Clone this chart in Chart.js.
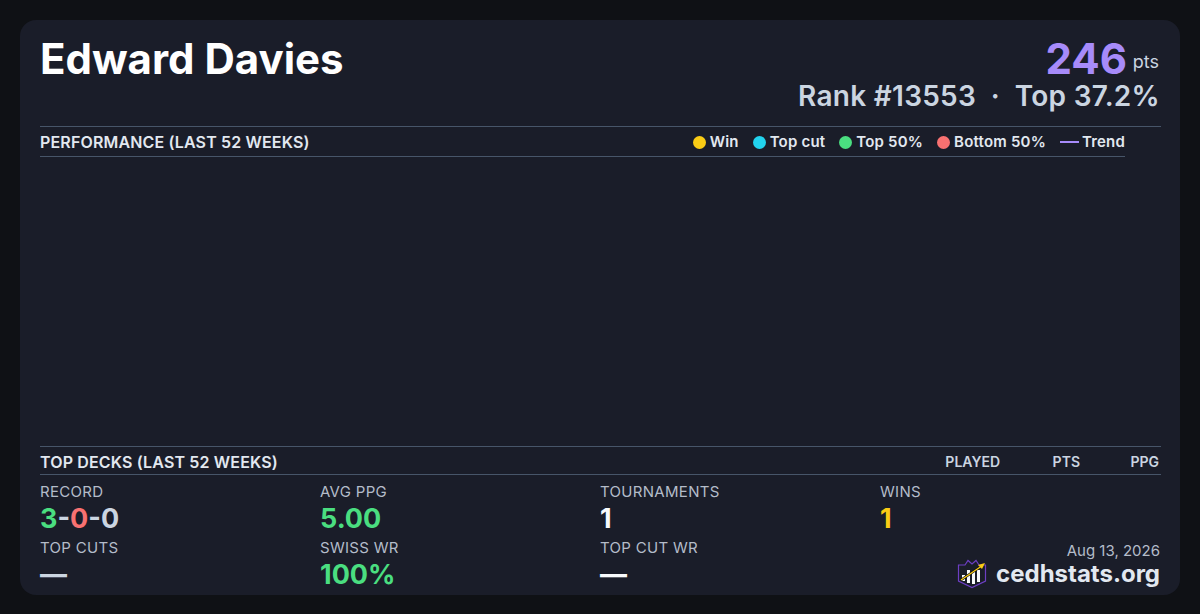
<!DOCTYPE html>
<html>
<head>
<meta charset="utf-8">
<script src="https://cdn.jsdelivr.net/npm/chart.js@4"></script>
<style>
html, body { margin: 0; padding: 0; background: #0f1115; }
body { width: 1200px; height: 614px; overflow: hidden; position: relative; font-family: Inter, sans-serif; }
#card { position: absolute; left: 20px; top: 20px; width: 1160px; height: 575px; background: #1a1d29; border-radius: 16px; }
.abs { position: absolute; white-space: nowrap; line-height: 1; }
.rule { position: absolute; height: 1px; background: #475569; }
.sect { font-size: 16px; font-weight: 600; color: #e2e8f0; letter-spacing: 0.15px; }
.colhead { font-size: 14px; font-weight: 600; color: #cbd5e1; }
.lab { font-size: 15px; font-weight: 400; color: #b4bcc9; letter-spacing: 0.3px; }
.val { font-size: 27px; font-weight: 700; color: #cbd5e1; }
#legend { position: absolute; top: 134px; right: 75px; display: flex; font-size: 15px; font-weight: 600; color: #e2e8f0; line-height: 16px; letter-spacing: 0.2px; }
#legend .item { display: flex; align-items: center; margin-left: 14px; }
#legend .dot { width: 13px; height: 13px; border-radius: 50%; margin-right: 4px; }
#legend .ln { width: 19px; height: 2px; margin-right: 3px; }
#chartBox { position: absolute; left: 40px; top: 157px; width: 1085px; height: 289px; }
</style>
</head>
<body>
<div id="card"></div>
<div class="abs" style="left:40px;top:36px;font-size:42px;font-weight:700;color:#fff;line-height:46px" id="name"></div>
<div class="abs" style="right:73px;top:37px;font-size:42px;font-weight:700;color:#a78bfa;line-height:44px" id="points"></div>
<div class="abs" style="right:41px;top:53px;font-size:18px;color:#cbd5e1;line-height:18px">pts</div>
<div class="abs" style="right:40px;top:80px;font-size:28px;font-weight:600;color:#cbd5e1;line-height:32px;letter-spacing:0.28px" id="rank"></div>

<div class="rule" style="left:40px;top:126px;width:1121px"></div>
<div class="abs sect" style="left:40px;top:134px">PERFORMANCE (LAST 52 WEEKS)</div>
<div id="legend"></div>
<div class="rule" style="left:40px;top:156px;width:1085px"></div>
<div id="chartBox"><canvas id="chart"></canvas></div>

<div class="rule" style="left:40px;top:446px;width:1121px"></div>
<div class="abs sect" style="left:40px;top:454px">TOP DECKS (LAST 52 WEEKS)</div>
<div class="abs colhead" style="right:200px;top:455px">PLAYED</div>
<div class="abs colhead" style="right:120px;top:455px">PTS</div>
<div class="abs colhead" style="right:41px;top:455px">PPG</div>
<div class="rule" style="left:40px;top:474px;width:1121px"></div>
<div id="stats"></div>

<div class="abs" style="right:40px;top:543px;font-size:15px;color:#b4bcc9">Aug 13, 2026</div>
<svg class="abs" style="left:957px;top:559px" width="30" height="30" viewBox="0 0 30 30">
  <path d="M1.5 6 L8 6 L11 1.5 L15 5 L19 1.5 L22 6 L28.5 6 L28.5 22 L15 28.5 L1.5 22 Z" fill="#1a1d29" stroke="#6d3fc4" stroke-width="1.2"/>
  <rect x="5" y="16" width="3" height="6" fill="#f8fafc"/>
  <rect x="10" y="11" width="3" height="13" fill="#f8fafc"/>
  <rect x="15" y="13" width="3" height="12" fill="#f8fafc"/>
  <rect x="20" y="11" width="3" height="12" fill="#f8fafc"/>
  <path d="M4 21 L26 6" stroke="#111" stroke-width="2.6"/>
  <path d="M4 21 L24 7.5" stroke="#facc15" stroke-width="1.3"/>
  <path d="M28 4 L21 6 L25 10 Z" fill="#facc15"/>
</svg>
<div class="abs" style="right:40px;top:560px;font-size:24px;font-weight:700;color:#e2e8f0;line-height:28px">cedhstats.org</div>

<script>
// player summary
const playerName = "Edward Davies";
const playerPoints = "246";
const playerRank = "Rank #13553 \u00a0\u00b7\u00a0 Top 37.2%";

// weekly results, nothing plotted for this player in the last 52 weeks
const weekLabels = [];
const winPoints = [];
const topCutPoints = [];
const top50Points = [];
const bottom50Points = [];
const trendValues = [];

// stat grid
const statColumns = [40, 320, 600, 880];
const statLabelsTop = ["RECORD", "AVG PPG", "TOURNAMENTS", "WINS"];
const statLabelsBottom = ["TOP CUTS", "SWISS WR", "TOP CUT WR"];
const statValuesTop = [
    '<span style="color:#4ade80">3</span>-<span style="color:#f87171">0</span>-0',
    '<span style="color:#4ade80">5.00</span>',
    '<span style="color:#f8fafc">1</span>',
    '<span style="color:#facc15">1</span>',
];
const statValuesBottom = [
    '\u2014',
    '<span style="color:#4ade80">100%</span>',
    '<span style="color:#f8fafc">\u2014</span>',
];

document.getElementById('name').textContent = playerName;
document.getElementById('points').textContent = playerPoints;
document.getElementById('rank').textContent = playerRank;

let statsHtml = '';
statLabelsTop.forEach((lab, i) => {
    statsHtml += `<div class="abs lab" style="left:${statColumns[i]}px;top:484px">${lab}</div>`;
    statsHtml += `<div class="abs val" style="left:${statColumns[i]}px;top:505px">${statValuesTop[i]}</div>`;
});
statLabelsBottom.forEach((lab, i) => {
    statsHtml += `<div class="abs lab" style="left:${statColumns[i]}px;top:540px">${lab}</div>`;
    statsHtml += `<div class="abs val" style="left:${statColumns[i]}px;top:561px">${statValuesBottom[i]}</div>`;
});
document.getElementById('stats').innerHTML = statsHtml;

// legend is html so the trend swatch can be wider than the dots
const htmlLegend = {
    id: 'htmlLegend',
    afterUpdate(chart) {
        const box = document.getElementById('legend');
        box.innerHTML = '';
        chart.data.datasets.forEach((ds) => {
            const item = document.createElement('div');
            item.className = 'item';
            const swatch = document.createElement('span');
            swatch.className = ds.type === 'line' ? 'ln' : 'dot';
            swatch.style.background = ds.borderColor;
            item.appendChild(swatch);
            item.appendChild(document.createTextNode(ds.label));
            box.appendChild(item);
        });
    },
};

new Chart(document.getElementById('chart'), {
    data: {
        labels: weekLabels,
        datasets: [
            { type: 'scatter', label: 'Win', data: winPoints, borderColor: '#facc15', backgroundColor: '#facc15' },
            { type: 'scatter', label: 'Top cut', data: topCutPoints, borderColor: '#22d3ee', backgroundColor: '#22d3ee' },
            { type: 'scatter', label: 'Top 50%', data: top50Points, borderColor: '#4ade80', backgroundColor: '#4ade80' },
            { type: 'scatter', label: 'Bottom 50%', data: bottom50Points, borderColor: '#f87171', backgroundColor: '#f87171' },
            { type: 'line', label: 'Trend', data: trendValues, borderColor: '#a78bfa', backgroundColor: '#a78bfa' },
        ],
    },
    options: {
        responsive: true,
        maintainAspectRatio: false,
        animation: false,
        plugins: {
            legend: { display: false },
            tooltip: { enabled: false },
        },
        scales: {
            x: { display: false },
            y: { display: false },
        },
    },
    plugins: [htmlLegend],
});
</script>
</body>
</html>
